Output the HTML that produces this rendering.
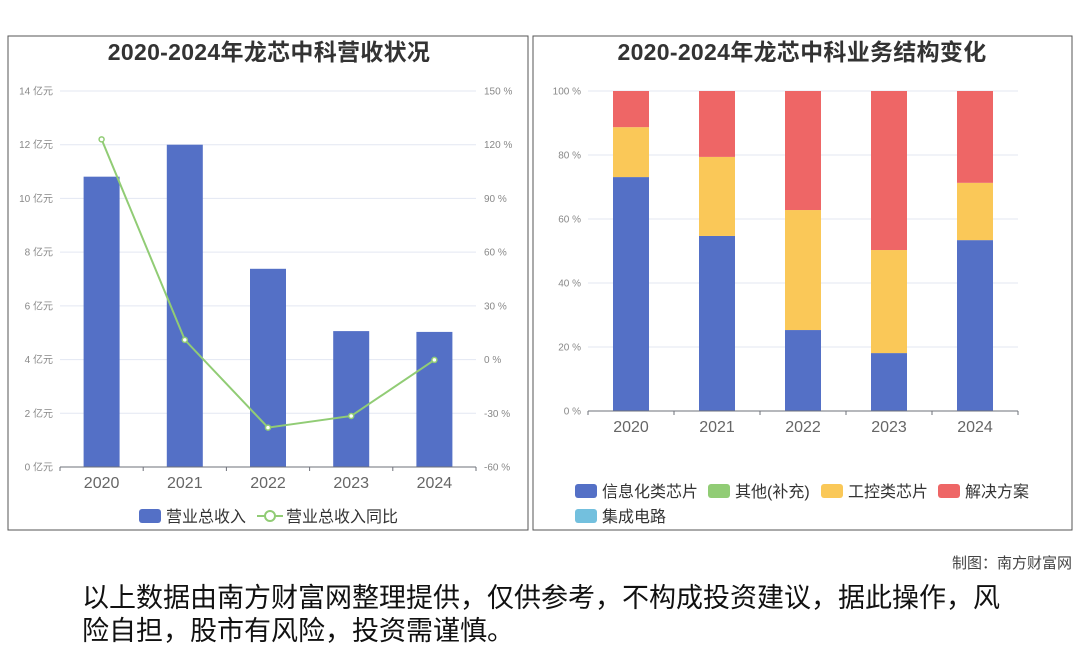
<!DOCTYPE html>
<html><head><meta charset="utf-8">
<style>
body{margin:0;background:#fff;width:1080px;height:646px;overflow:hidden;font-family:"Liberation Sans","Noto Sans CJK SC",sans-serif;}
svg text{font-family:"Liberation Sans","Noto Sans CJK SC",sans-serif;}
</style></head><body>
<svg id="s" width="1080" height="646" xmlns="http://www.w3.org/2000/svg">
<rect x="8" y="36" width="520" height="494" fill="#fff" stroke="#555" stroke-width="1"/>
<rect x="533" y="36" width="539" height="494" fill="#fff" stroke="#555" stroke-width="1"/>
<text x="269" y="60" text-anchor="middle" font-size="23" font-weight="bold" fill="#333" letter-spacing="0.3">2020-2024年龙芯中科营收状况</text>
<text x="802" y="60" text-anchor="middle" font-size="23" font-weight="bold" fill="#333" letter-spacing="0.3">2020-2024年龙芯中科业务结构变化</text>
<g id="L"></g><g id="R"></g>
<text x="1072" y="568" text-anchor="end" font-size="15" fill="#444">制图：南方财富网</text>
<text x="82" y="607" font-size="27" fill="#111">以上数据由南方财富网整理提供，仅供参考，不构成投资建议，据此操作，风</text>
<text x="82" y="640" font-size="27" fill="#111">险自担，股市有风险，投资需谨慎。</text>
</svg>
<script>
const years=["2020","2021","2022","2023","2024"];
const revenue=[10.81,12.0,7.38,5.06,5.03];
const yoy=[123,11,-38,-31.5,-0.2];
const revTicks=[0,2,4,6,8,10,12,14];
const yoyTicks=[-60,-30,0,30,60,90,120,150];
const infoChip=[73.1,54.7,25.3,18.1,53.4];
const other=[0,0,0,0,0];
const indChip=[15.6,24.7,37.5,32.2,17.9];
const solution=[11.3,20.6,37.2,49.7,28.7];
const ic=[0,0,0,0,0];
const pctTicks=[0,20,40,60,80,100];
const NS="http://www.w3.org/2000/svg";
function el(p,t,a){const e=document.createElementNS(NS,t);for(const k in a)e.setAttribute(k,a[k]);p.appendChild(e);return e;}
// left chart
const L=document.getElementById('L');
const lx0=60,lx1=476,ly0=467,ly1=91;
const bw=(lx1-lx0)/years.length;
const yL=v=>ly0-(v/14)*(ly0-ly1);
const yR=v=>ly0-((v+60)/210)*(ly0-ly1);
revTicks.forEach(v=>{
 const g=el(L,'line',{x1:lx0,x2:lx1,y1:yL(v),y2:yL(v),stroke:'#e3e7f2','stroke-width':1});
 
 
 const t=el(L,'text',{x:lx0-7,y:yL(v)+3.5,'text-anchor':'end','font-size':10,fill:'#888'});t.textContent=v+' 亿元';
 
 
});
yoyTicks.forEach(v=>{
 const t=el(L,'text',{x:lx1+8,y:yR(v)+3.5,'font-size':10,fill:'#888'});t.textContent=v+' %';
 
 
});
revenue.forEach((v,i)=>{
 const cx=lx0+bw*(i+0.5);
 const r=el(L,'rect',{x:cx-18,y:yL(v),width:36,height:ly0-yL(v),fill:'#5470c6'});
 
 
 const t=el(L,'text',{x:cx,y:488,'text-anchor':'middle','font-size':16,fill:'#666'});t.textContent=years[i];
 
 
});
el(L,'line',{x1:lx0,x2:lx1,y1:ly0,y2:ly0,stroke:'#6e7079'});
for(let i=0;i<=years.length;i++)el(L,'line',{x1:lx0+bw*i,x2:lx0+bw*i,y1:ly0,y2:ly0+4,stroke:'#6e7079'});
const pts=yoy.map((v,i)=>[lx0+bw*(i+0.5),yR(v)]);
const pl=el(L,'polyline',{points:pts.map(p=>p.join(',')).join(' '),fill:'none',stroke:'#91cc75','stroke-width':2});


pts.forEach(p=>{const c=el(L,'circle',{cx:p[0],cy:p[1],r:2.5,fill:'#fff',stroke:'#91cc75','stroke-width':1.5});
 
 });
// left legend
const lg=el(L,'g',{});


el(lg,'rect',{x:139,y:509,width:22,height:14,rx:3,fill:'#5470c6'});
let t1=el(lg,'text',{x:166,y:522,'font-size':16,fill:'#333'});t1.textContent='营业总收入';
el(lg,'line',{x1:257,x2:283,y1:516,y2:516,stroke:'#91cc75','stroke-width':2});
el(lg,'circle',{cx:270,cy:516,r:5,fill:'#fff',stroke:'#91cc75','stroke-width':2});
let t2=el(lg,'text',{x:286,y:522,'font-size':16,fill:'#333'});t2.textContent='营业总收入同比';
// right chart
const R=document.getElementById('R');
const rx0=588,rx1=1018,ry0=411,ry1=91;
const rbw=(rx1-rx0)/years.length;
const yP=v=>ry0-(v/100)*(ry0-ry1);
pctTicks.forEach(v=>{
 const g=el(R,'line',{x1:rx0,x2:rx1,y1:yP(v),y2:yP(v),stroke:'#e3e7f2','stroke-width':1});
 
 
 const t=el(R,'text',{x:rx0-7,y:yP(v)+3.5,'text-anchor':'end','font-size':10,fill:'#888'});t.textContent=v+' %';
 
 
});
const series=[[infoChip,'#5470c6','info-chip'],[other,'#91cc75','other'],[indChip,'#fac858','industrial-chip'],[solution,'#ee6666','solution'],[ic,'#73c0de','ic']];
years.forEach((yr,i)=>{
 const cx=rx0+rbw*(i+0.5);let acc=0;
 series.forEach(s=>{const v=s[0][i];if(v<=0)return;
  const r=el(R,'rect',{x:cx-18,y:yP(acc+v),width:36,height:yP(acc)-yP(acc+v),fill:s[1]});
  
  
  acc+=v;});
 const t=el(R,'text',{x:cx,y:432,'text-anchor':'middle','font-size':16,fill:'#666'});t.textContent=yr;
 
 
});
el(R,'line',{x1:rx0,x2:rx1,y1:ry0,y2:ry0,stroke:'#6e7079'});
for(let i=0;i<=years.length;i++)el(R,'line',{x1:rx0+rbw*i,x2:rx0+rbw*i,y1:ry0,y2:ry0+4,stroke:'#6e7079'});
const rl=el(R,'g',{});


[[575,484,'#5470c6','信息化类芯片'],[708,484,'#91cc75','其他(补充)'],[821,484,'#fac858','工控类芯片'],[938,484,'#ee6666','解决方案'],[575,509,'#73c0de','集成电路']].forEach(l=>{
 el(rl,'rect',{x:l[0],y:l[1],width:22,height:14,rx:3,fill:l[2]});
 const t=el(rl,'text',{x:l[0]+27,y:l[1]+13,'font-size':16,fill:'#333'});t.textContent=l[3];
});
</script>
</body></html>
